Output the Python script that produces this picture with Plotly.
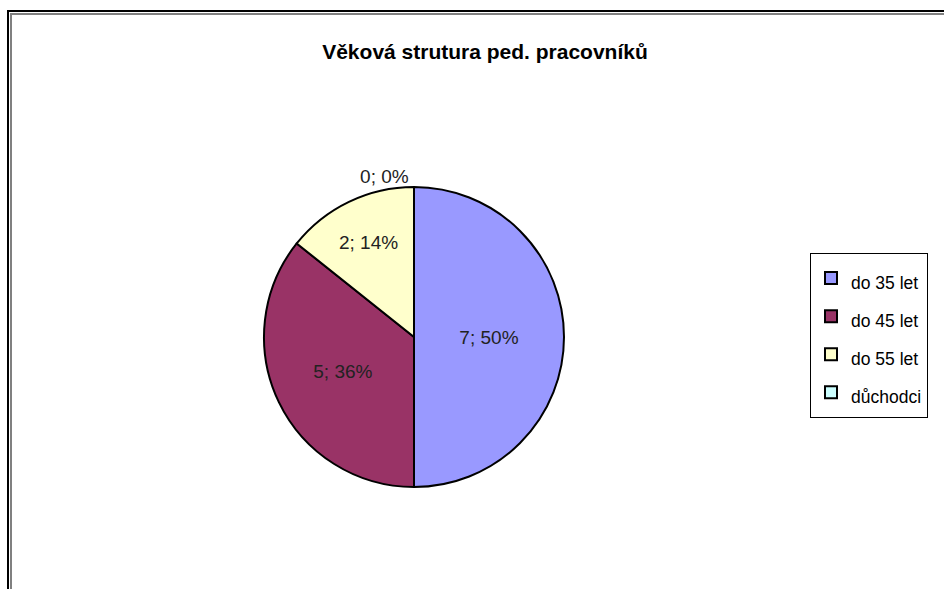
import plotly.graph_objects as go

labels = ["do 35 let", "do 45 let", "do 55 let", "důchodci"]
values = [7, 5, 2, 0]
colors = ["#9999FF", "#993366", "#FFFFCC", "#CCFFFF"]
title = "Věková strutura ped. pracovníků"

W, H = 944, 589
FONT = "Liberation Sans, Arial, sans-serif"

fig = go.Figure()
fig.add_trace(go.Pie(
    labels=['<span style="font-size:17.5px">' + l + '</span>' for l in labels],
    values=values, sort=False, direction="clockwise", rotation=0,
    marker=dict(colors=colors, line=dict(color="black", width=2)),
    texttemplate="%{value}; %{percent:.0%}",
    textposition=["inside", "inside", "inside", "outside"],
    insidetextorientation="horizontal",
    textfont=dict(family=FONT, size=19, color="#222222"),
    domain=dict(x=[264 / W, 564 / W], y=[1 - 487 / H, 1 - 187 / H]),
    hovertemplate="%{value}; %{percent:.0%}<extra></extra>",
))

def hx(px):
    return px / W
def vy(py):
    return 1 - py / H

shapes = [
    dict(type="line", xref="paper", yref="paper", x0=hx(8), x1=hx(8), y0=vy(10), y1=vy(600), line=dict(color="black", width=2)),
    dict(type="line", xref="paper", yref="paper", x0=hx(7), x1=hx(960), y0=vy(11), y1=vy(11), line=dict(color="black", width=2)),
    dict(type="line", xref="paper", yref="paper", x0=hx(11), x1=hx(11), y0=vy(13), y1=vy(600), line=dict(color="#808080", width=2)),
    dict(type="line", xref="paper", yref="paper", x0=hx(10), x1=hx(960), y0=vy(14), y1=vy(14), line=dict(color="#808080", width=2)),
]

fig.update_layout(
    width=W, height=H, margin=dict(l=0, r=0, t=0, b=0),
    paper_bgcolor="white", plot_bgcolor="white",
    shapes=shapes,
    title=dict(text="<b>" + title + "</b>", x=485 / W, xanchor="center", y=vy(52), yanchor="middle",
               font=dict(family=FONT, size=21, color="black")),
    legend=dict(x=810 / W, y=vy(253), xanchor="left", yanchor="top",
                bordercolor="black", borderwidth=1, bgcolor="white",
                font=dict(family=FONT, size=27, color="black"),
                itemwidth=30),
    showlegend=True,
)
fig.write_html("out.html", config={"displayModeBar": False},
               post_script="document.body.style.margin='0';")
